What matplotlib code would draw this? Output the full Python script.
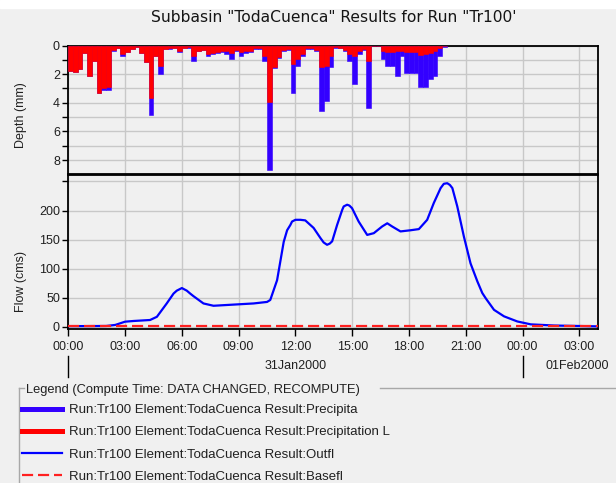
import numpy as np
import pandas as pd
import matplotlib
matplotlib.use("Agg")
import matplotlib.pyplot as plt
import matplotlib.dates as mdates
from matplotlib.lines import Line2D
from matplotlib.patches import Rectangle
from matplotlib.transforms import blended_transform_factory

plt.rcParams['font.family'] = ['Liberation Sans', 'DejaVu Sans']
plt.rcParams['font.size'] = 9

start = pd.Timestamp("2000-01-31 00:00")

# precipitation per 15 min interval (mm)
precip_total = [1.8, 1.83, 1.64, 0.5, 2.16, 1.06, 3.33, 3.1, 3.12, 0.35,
                0.2, 0.7, 0.47, 0.23, 0.1, 0.5, 1.17, 4.86, 0.7, 2.0,
                0.25, 0.23, 0.2, 0.47, 0.2, 0.15, 1.06, 0.4, 0.3, 0.7,
                0.6, 0.5, 0.47, 0.6, 0.94, 0.35, 0.7, 0.55, 0.47, 0.25,
                0.25, 1.06, 8.68, 1.6, 0.9, 0.35, 0.3, 3.29, 1.41, 0.7,
                0.25, 0.25, 0.35, 4.58, 3.87, 1.53, 0.15, 0.2, 0.4, 1.06,
                2.7, 0.6, 0.3, 4.34, 0.05, 0.05, 0.94, 1.41, 1.41, 2.11,
                0.7, 1.9, 1.9, 1.9, 2.93, 2.93, 2.35, 2.11, 0.7, 0.1]
precip_loss = [1.8, 1.83, 1.64, 0.5, 2.16, 1.06, 3.33, 3.0, 2.89, 0.33,
               0.2, 0.6, 0.45, 0.22, 0.1, 0.5, 1.17, 3.64, 0.7, 1.41,
               0.23, 0.2, 0.18, 0.35, 0.18, 0.12, 0.75, 0.35, 0.28, 0.6,
               0.55, 0.45, 0.35, 0.4, 0.54, 0.3, 0.45, 0.4, 0.35, 0.2,
               0.2, 0.7, 3.95, 1.5, 0.8, 0.3, 0.25, 1.29, 0.94, 0.6,
               0.2, 0.2, 0.3, 1.53, 1.41, 0.7, 0.12, 0.15, 0.3, 0.6,
               0.7, 0.35, 0.25, 1.1, 0.04, 0.04, 0.35, 0.47, 0.45, 0.35,
               0.35, 0.45, 0.45, 0.45, 0.65, 0.6, 0.5, 0.4, 0.2, 0.05]

# outflow hydrograph (hours from start, cms)
flow_hours = [0, 1.0, 2.0, 2.48, 3.0, 3.45, 4.32, 4.68, 5.2, 5.56, 5.73, 6.0,
              6.26, 6.44, 6.61, 7.14, 7.67, 8.73, 9.79, 10.5, 10.67, 11.03,
              11.38, 11.56, 11.73, 11.82, 12.0, 12.26, 12.52, 12.96, 13.32,
              13.49, 13.67, 13.81, 13.94, 14.2, 14.47, 14.55, 14.73, 14.85,
              14.99, 15.34, 15.79, 16.14, 16.58, 16.85, 17.11, 17.55, 18.08,
              18.52, 18.96, 19.31, 19.67, 19.84, 20.02, 20.16, 20.29, 20.55,
              20.9, 21.25, 21.61, 21.87, 22.05, 22.49, 23.02, 23.72, 24.43,
              25.66, 28.0]
flow_cms = [1.0, 1.0, 1.2, 3, 8.6, 9.8, 11.5, 17, 40, 57, 62, 66.5,
            62, 57, 52.6, 40, 36, 38, 40, 42.6, 46, 80,
            146, 166, 175, 181, 184, 184, 183, 170, 152.6,
            145, 141, 143, 147, 175, 201, 207, 210, 208.5,
            204, 181, 158, 161, 172.5, 178, 172.5, 164, 166,
            168, 184, 213, 238.6, 246, 247, 244, 238.6, 207,
            155, 109, 78, 58, 49, 29, 17.8, 9, 4,
            2, 0.5]

base_hours = [0, 28]
base_cms = [0.8, 0.8]

labels = ["Run:Tr100 Element:TodaCuenca Result:Precipita",
          "Run:Tr100 Element:TodaCuenca Result:Precipitation L",
          "Run:Tr100 Element:TodaCuenca Result:Outfl",
          "Run:Tr100 Element:TodaCuenca Result:Basefl"]
day_labels = ["31Jan2000", "01Feb2000"]

bg = "#f0f0f0"
grid_c = "#c8c8c8"
bar_blue = "#3300ff"
dash = (0, (5, 2.2))

W, H = 616, 483
fig = plt.figure(figsize=(W / 100, H / 100), dpi=100, facecolor=bg)
fig.add_artist(Rectangle((0, 1 - 8 / H), 1, 8 / H, transform=fig.transFigure,
                         color="white", zorder=0))

left, width = 68.3 / W, 530 / W
ax_d = fig.add_axes([left, 1 - 174.5 / H, width, 129 / H], facecolor=bg)
ax_f = fig.add_axes([left, 1 - 329 / H, width, 154.5 / H], facecolor=bg)

t_bar = mdates.date2num(pd.date_range(start, periods=len(precip_total), freq="15min"))
w_bar = 15 / 1440
ax_d.bar(t_bar, precip_total, width=w_bar, align="edge", color=bar_blue,
         edgecolor=bar_blue, linewidth=0.4, zorder=3)
ax_d.bar(t_bar, precip_loss, width=w_bar, align="edge", color="#ff0000",
         edgecolor="#ff0000", linewidth=0.4, zorder=4)

t_flow = start + pd.to_timedelta(flow_hours, unit="h")
t_base = start + pd.to_timedelta(base_hours, unit="h")
ax_f.plot(t_flow, flow_cms, color="#0000ff", lw=1.6, zorder=3,
          solid_joinstyle="round")
ax_f.plot(t_base, base_cms, color="#ff2020", lw=1.6, ls=dash, zorder=4)

x0 = mdates.date2num(start)
x1 = mdates.date2num(start + pd.Timedelta(hours=28))
for ax in (ax_d, ax_f):
    ax.set_xlim(x0, x1)
    ax.xaxis.set_major_locator(mdates.HourLocator(byhour=range(0, 24, 3)))
    ax.xaxis.set_major_formatter(mdates.DateFormatter("%H:%M"))
    ax.grid(True, which="both", color=grid_c, lw=1.0, zorder=0)
    for s in ax.spines.values():
        s.set_color("black")
        s.set_linewidth(1.3)
    ax.tick_params(axis="y", which="both", direction="out", length=4,
                   width=1, colors="black", labelcolor="#202020", pad=2)

ax_d.set_ylim(9, 0)
ax_d.set_yticks([0, 2, 4, 6, 8])
ax_d.set_yticks([1, 3, 5, 7], minor=True)
ax_d.tick_params(axis="x", bottom=False, labelbottom=False)
ax_d.set_ylabel("Depth (mm)", color="#202020")
ax_d.yaxis.set_label_coords(-0.078, 0.46)

ax_f.set_ylim(-4, 262)
ax_f.set_yticks([0, 50, 100, 150, 200])
ax_f.set_yticks([250], minor=True)
ax_f.tick_params(axis="x", direction="out", length=5, width=1,
                 colors="black", labelcolor="#202020", pad=4)
ax_f.set_ylabel("Flow (cms)", color="#202020")
ax_f.yaxis.set_label_coords(-0.078, 0.31)

# day row under the hour labels
tr = blended_transform_factory(ax_f.transData, ax_f.transAxes)
for k, lab in enumerate(day_labels):
    d0 = start + pd.Timedelta(days=k)
    ax_f.plot([d0, d0], [-0.175, -0.312], color="black", lw=1,
              transform=tr, clip_on=False)
d_mid = [start + pd.Timedelta(hours=12), start + pd.Timedelta(hours=26.9)]
for dm, lab in zip(d_mid, day_labels):
    ax_f.text(mdates.date2num(dm), -0.24, lab, transform=tr, ha="center",
              va="center", color="#202020")

fig.text((68.3 + 265) / W, 1 - 18 / H,
         'Subbasin "TodaCuenca" Results for Run "Tr100\'',
         ha="center", va="center", fontsize=11.2, color="#151515",
         family="DejaVu Sans")

# legend with titled border
handles = [Line2D([], [], color=bar_blue, lw=3.6),
           Line2D([], [], color="#ff0000", lw=3.6),
           Line2D([], [], color="#0000ff", lw=1.6),
           Line2D([], [], color="#ff2020", lw=1.6, ls=dash)]
fig.legend(handles, labels, loc="upper left",
           bbox_to_anchor=(22 / W, 1 - 404 / H), frameon=False,
           borderpad=0, borderaxespad=0, handlelength=3.0,
           handletextpad=0.53, labelspacing=0.76, fontsize=9.5,
           labelcolor="#202020")
fig.text(26 / W, 1 - 390 / H, "Legend (Compute Time: DATA CHANGED, RECOMPUTE)",
         ha="left", va="center", fontsize=9.3, color="#202020")
border = "#a8a8a8"
fig.add_artist(Line2D([19 / W, 19 / W], [1 - 388 / H, 0], color=border, lw=1,
                      transform=fig.transFigure))
fig.add_artist(Line2D([19 / W, 24 / W], [1 - 388 / H, 1 - 388 / H], color=border,
                      lw=1, transform=fig.transFigure))
fig.add_artist(Line2D([380 / W, 1], [1 - 388 / H, 1 - 388 / H], color=border,
                      lw=1, transform=fig.transFigure))

fig.savefig("out.png", dpi=100, facecolor=bg)
